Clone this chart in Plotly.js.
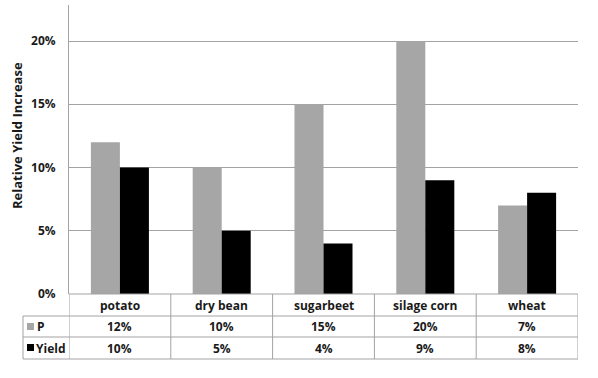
<!DOCTYPE html>
<html>
<head>
<meta charset="utf-8">
<script src="https://cdn.plot.ly/plotly-3.0.1.min.js"></script>
<style>html,body{margin:0;padding:0;background:#fff}#chart{width:598px;height:378px}</style>
</head>
<body>
<div id="chart"></div>
<script>
var categories = ['potato', 'dry bean', 'sugarbeet', 'silage corn', 'wheat'];
var seriesNames = ['P', 'Yield'];
var pValues = [0.12, 0.10, 0.15, 0.20, 0.07];
var yieldValues = [0.10, 0.05, 0.04, 0.09, 0.08];
var yTickVals = [0, 0.05, 0.10, 0.15, 0.20];
var yTickText = ['0%', '5%', '10%', '15%', '20%'];

var W = 598, H = 378;
var L = 69, R = 578, T = 5, B = 294;
function py(p) { return (B - p) / (B - T); }
function px(p) { return (p - L) / (R - L); }

var FONT = '"Open Sans", "Noto Sans", sans-serif';
var TXT = '#1a1a1a';
var LINE = '#a3a3a3';
var GRAY = '#a6a6a6';

var traces = [
  {type: 'bar', name: seriesNames[0], x: categories, y: pValues, marker: {color: GRAY}, hoverinfo: 'skip'},
  {type: 'bar', name: seriesNames[1], x: categories, y: yieldValues, marker: {color: '#000000'}, hoverinfo: 'skip'}
];

var rowTop = 294, row1 = 316, row2 = 337, rowBot = 359, labelLeft = 23;
var shapes = [];
function hline(x0, x1, xref, y) {
  shapes.push({type: 'line', xref: xref, yref: 'paper', x0: x0, x1: x1, y0: py(y), y1: py(y), line: {color: LINE, width: 1}});
}
function vline(x, xref, y0, y1) {
  shapes.push({type: 'line', xref: xref, yref: 'paper', x0: x, x1: x, y0: py(y0), y1: py(y1), line: {color: LINE, width: 1}});
}
hline(0, 1, 'paper', rowTop);
hline(px(labelLeft), 1, 'paper', row1);
hline(px(labelLeft), 1, 'paper', row2);
hline(px(labelLeft), 1, 'paper', rowBot);
vline(px(labelLeft), 'paper', row1, rowBot);
for (var i = 0; i <= categories.length; i++) {
  vline(i - 0.5, 'x', rowTop, rowBot);
}
shapes.push({type: 'rect', xref: 'paper', yref: 'paper', x0: px(27), x1: px(34), y0: py(330), y1: py(323), fillcolor: GRAY, line: {width: 0}});
shapes.push({type: 'rect', xref: 'paper', yref: 'paper', x0: px(27), x1: px(34), y0: py(351), y1: py(344), fillcolor: '#000000', line: {width: 0}});

var annFont = {family: FONT, size: 12, color: TXT};
var annotations = [];
function pct(v) { return Math.round(v * 100) + '%'; }
function b(s) { return '<b>' + s + '</b>'; }
for (var j = 0; j < categories.length; j++) {
  annotations.push({xref: 'x', yref: 'paper', x: categories[j], y: py((rowTop + row1) / 2), text: b(categories[j]), showarrow: false, font: annFont, xanchor: 'center', yanchor: 'middle'});
  annotations.push({xref: 'x', yref: 'paper', x: categories[j], y: py((row1 + row2) / 2), text: b(pct(pValues[j])), showarrow: false, font: annFont, xanchor: 'center', yanchor: 'middle'});
  annotations.push({xref: 'x', yref: 'paper', x: categories[j], y: py((row2 + rowBot) / 2), text: b(pct(yieldValues[j])), showarrow: false, font: annFont, xanchor: 'center', yanchor: 'middle'});
}
annotations.push({xref: 'paper', yref: 'paper', x: px(35), y: py((row1 + row2) / 2), text: b(seriesNames[0]), showarrow: false, font: annFont, xanchor: 'left', yanchor: 'middle'});
annotations.push({xref: 'paper', yref: 'paper', x: px(34), y: py((row2 + rowBot) / 2), text: b(seriesNames[1]), showarrow: false, font: annFont, xanchor: 'left', yanchor: 'middle'});
annotations.push({xref: 'paper', yref: 'paper', x: px(17), y: py(136), text: b('Relative Yield Increase'), textangle: -90, showarrow: false, font: {family: FONT, size: 13, color: TXT}, xanchor: 'center', yanchor: 'middle'});

var layout = {
  width: W, height: H,
  margin: {l: L, r: W - R, t: T, b: H - B, pad: 0},
  paper_bgcolor: '#ffffff', plot_bgcolor: '#ffffff',
  showlegend: false,
  barmode: 'group', bargap: 0.43, bargroupgap: 0,
  xaxis: {type: 'category', showticklabels: false, showgrid: false, zeroline: false, showline: false, ticks: '', range: [-0.5, 4.5], fixedrange: true},
  yaxis: {range: [0, 0.2285], tickvals: yTickVals, ticktext: yTickText.map(b), showgrid: true, gridcolor: LINE, gridwidth: 1, zeroline: false,
          showline: true, linecolor: LINE, linewidth: 1, ticks: 'outside', ticklen: 10, tickcolor: 'rgba(0,0,0,0)',
          tickfont: {family: FONT, size: 12, color: TXT}, fixedrange: true},
  shapes: shapes,
  annotations: annotations
};

Plotly.newPlot('chart', traces, layout, {displayModeBar: false, staticPlot: true});
</script>
</body>
</html>
